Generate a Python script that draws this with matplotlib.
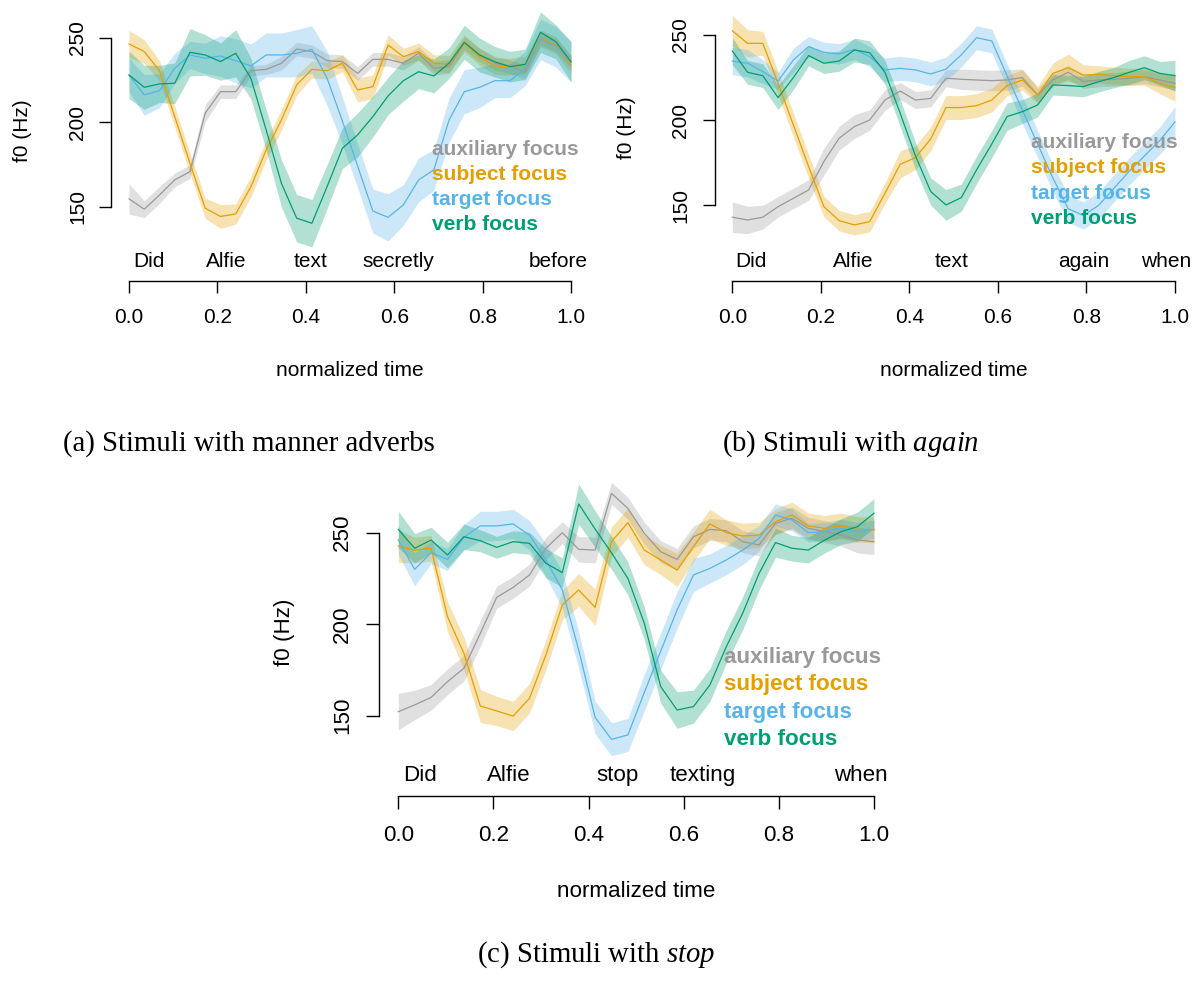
import numpy as np
import matplotlib
matplotlib.use("Agg")
import matplotlib.pyplot as plt

plt.rcParams["font.family"] = ["Liberation Sans", "DejaVu Sans"]
plt.rcParams["mathtext.fontset"] = "custom"
plt.rcParams["mathtext.rm"] = "Liberation Serif"
plt.rcParams["mathtext.it"] = "Liberation Serif:italic"

# normalized time: 30 equally spaced samples per utterance
t = np.linspace(0, 1, 30)

focus_labels = ["auxiliary focus", "subject focus", "target focus", "verb focus"]
colors = ["#999999", "#E69F00", "#56B4E9", "#009E73"]

# (a) stimuli with manner adverbs -- mean f0 (Hz) and CI half-width
aux_a = [154.8, 148.7, 157.1, 166.0, 170.9, 205.4, 218.1, 218.1, 230.5, 231.3, 234.9, 243.3, 241.8, 236.4, 235.9,
         228.9, 237.2, 237.2, 234.9, 240.8, 231.9, 232.9, 246.7, 239.8, 234.9, 232.9, 229.9, 249.6, 245.7, 235.9]
subj_a = [246.3, 241.8, 230.5, 203.4, 175.8, 149.3, 144.4, 145.9, 162.0, 183.7, 201.4, 222.1, 231.3, 230.5, 234.9,
          219.1, 221.1, 245.7, 238.8, 241.8, 234.9, 234.5, 246.7, 238.8, 233.3, 232.9, 233.9, 249.6, 245.7, 233.9]
targ_a = [228.0, 216.2, 218.7, 231.9, 239.8, 237.8, 239.2, 236.4, 233.3, 239.8, 239.8, 240.8, 243.1, 226.0, 200.8,
          174.2, 147.6, 143.9, 151.2, 166.0, 171.9, 201.4, 218.1, 220.7, 224.6, 224.6, 231.9, 249.0, 244.7, 235.8]
verb_a = [228.0, 220.7, 222.7, 223.1, 241.4, 239.8, 235.9, 240.8, 226.0, 195.5, 164.0, 143.4, 140.4, 162.1, 184.7,
          192.6, 203.4, 215.6, 224.6, 229.9, 227.4, 235.0, 247.3, 239.8, 235.8, 232.9, 234.3, 253.2, 247.6, 235.8]
aux_a_ci = [9, 5, 5, 4, 4, 5, 4, 4, 3, 3, 4, 4, 4, 4, 4, 4, 4, 4, 4, 4, 4, 4, 4, 4, 4, 4, 4, 4, 4, 4]
subj_a_ci = [8, 7, 6, 6, 6, 6, 7, 6, 6, 6, 6, 6, 5, 5, 5, 7, 7, 6, 5, 5, 5, 5, 5, 5, 5, 5, 5, 5, 5, 5]
targ_a_ci = [10, 12, 10, 9, 8, 9, 12, 13, 13, 13, 13, 14, 14, 16, 14, 13, 13, 14, 12, 13, 12, 13, 13, 12, 10, 10, 10, 12, 12, 12]
verb_a_ci = [14, 13, 11, 12, 14, 12, 11, 14, 12, 12, 14, 14, 14, 13, 12, 13, 12, 11, 12, 10, 10, 9, 10, 10, 9, 9, 9, 12, 10, 12]
words_a = ["Did", "Alfie", "text", "secretly", "before"]
word_pos_a = [0.045, 0.221, 0.411, 0.610, 0.970]

# (b) stimuli with "again"
aux_b = [143.0, 141.4, 143.0, 149.2, 154.1, 159.0, 175.7, 189.4, 196.2, 200.1, 211.8, 217.1, 211.8, 212.8, 224.6,
         224.0, 223.6, 223.2, 223.6, 225.0, 214.8, 223.6, 228.1, 222.6, 223.6, 224.0, 224.6, 225.5, 223.6, 221.6]
subj_b = [252.5, 245.1, 245.1, 221.6, 197.2, 172.7, 149.2, 141.0, 138.5, 140.4, 157.1, 174.1, 178.0, 189.0, 207.4,
          207.4, 208.5, 211.8, 220.3, 223.6, 214.8, 227.5, 230.8, 226.5, 226.9, 226.1, 225.5, 225.5, 221.6, 219.1]
targ_b = [234.7, 233.4, 228.5, 223.0, 235.3, 243.2, 239.8, 238.9, 241.6, 237.3, 229.5, 230.4, 229.5, 227.1, 230.0,
          238.3, 248.4, 246.5, 226.0, 206.0, 186.0, 166.0, 148.0, 144.0, 150.0, 160.0, 170.0, 179.0, 188.0, 199.0]
verb_b = [240.6, 228.1, 226.1, 213.2, 225.0, 237.9, 233.4, 234.7, 241.2, 239.6, 228.1, 204.0, 179.0, 158.1, 150.2,
          154.5, 170.8, 186.0, 202.1, 205.0, 208.9, 220.7, 220.3, 219.7, 222.6, 225.0, 228.1, 230.8, 227.5, 226.1]
aux_b_ci = [9, 8, 7, 6, 6, 6, 8, 7, 7, 6, 6, 5, 5, 5, 5, 6, 6, 6, 6, 5, 4, 4, 4, 4, 4, 4, 4, 4, 4, 4]
subj_b_ci = [9, 8, 7, 7, 7, 7, 6, 6, 6, 6, 6, 8, 7, 7, 7, 7, 7, 7, 6, 6, 5, 6, 8, 6, 5, 5, 5, 5, 6, 8]
targ_b_ci = [8, 8, 7, 5, 7, 6, 6, 6, 6, 6, 7, 7, 7, 7, 7, 7, 7, 7, 7, 8, 8, 8, 8, 8, 8, 8, 8, 8, 8, 9]
verb_b_ci = [8, 7, 7, 7, 7, 6, 6, 6, 7, 7, 7, 8, 8, 8, 9, 8, 8, 8, 8, 7, 7, 6, 6, 6, 6, 6, 7, 7, 7, 9]
words_b = ["Did", "Alfie", "text", "again", "when"]
word_pos_b = [0.043, 0.274, 0.495, 0.794, 0.980]

# (c) stimuli with "stop"
aux_c = [152.2, 155.9, 160.0, 168.6, 175.9, 195.0, 214.7, 220.1, 226.9, 241.5, 250.0, 240.9, 240.5, 271.5, 263.3,
         249.7, 239.6, 235.4, 247.8, 251.8, 251.1, 245.1, 243.3, 255.1, 257.9, 252.4, 250.6, 248.7, 246.0, 245.1]
subj_c = [242.7, 240.5, 241.5, 204.1, 184.1, 155.3, 152.6, 149.8, 159.5, 183.2, 210.5, 218.7, 209.2, 245.1, 255.5,
          240.5, 235.1, 229.6, 242.4, 254.8, 250.0, 248.2, 248.7, 256.0, 259.7, 253.7, 252.4, 253.7, 251.8, 251.5]
targ_c = [246.0, 230.0, 239.1, 235.4, 247.5, 253.7, 253.7, 254.8, 248.7, 235.1, 218.7, 185.9, 149.1, 137.1, 139.5,
          162.7, 185.3, 207.8, 226.9, 230.5, 235.1, 240.5, 246.9, 259.7, 257.0, 250.0, 250.6, 252.4, 250.6, 251.8]
verb_c = [251.8, 241.5, 246.0, 237.8, 247.8, 245.6, 242.0, 245.1, 244.2, 233.3, 228.2, 265.7, 252.0, 239.0, 225.0,
          200.5, 165.9, 153.1, 155.0, 166.8, 187.7, 206.0, 227.8, 244.6, 241.5, 240.5, 246.0, 250.6, 253.3, 260.6]
aux_c_ci = [10, 8, 7, 7, 7, 7, 6, 6, 6, 6, 6, 7, 7, 6, 6, 6, 6, 6, 6, 6, 6, 6, 6, 6, 6, 6, 6, 6, 7, 7]
subj_c_ci = [9, 7, 7, 8, 9, 9, 8, 8, 8, 8, 8, 9, 10, 8, 8, 8, 8, 9, 8, 8, 7, 7, 7, 7, 7, 7, 7, 7, 7, 7]
targ_c_ci = [8, 9, 6, 6, 7, 8, 8, 8, 8, 9, 10, 10, 9, 9, 9, 10, 10, 10, 9, 8, 8, 8, 7, 6, 6, 5, 5, 5, 5, 5]
verb_c_ci = [10, 8, 7, 7, 7, 6, 6, 6, 6, 8, 8, 11, 10, 9, 9, 9, 9, 10, 9, 9, 9, 9, 9, 8, 7, 7, 7, 7, 8, 8]
words_c = ["Did", "Alfie", "stop", "texting", "when"]
word_pos_c = [0.046, 0.233, 0.461, 0.641, 0.973]

W, H = 1192, 982
fig = plt.figure(figsize=(W / 100, H / 100), dpi=100)


def fy(py):
    return 1 - py / H


def panel(x0, x1, y250, y150, top, axline, s, series, cis, words, wpos, legx, legy):
    span = x1 - x0
    left, right = x0 - 0.04 * span, x1 + 0.04 * span
    pph = (y150 - y250) / 100.0
    ymax = 250 + (y250 - top) / pph
    ymin = 250 - (axline - y250) / pph
    ax = fig.add_axes([left / W, fy(axline), (right - left) / W, (axline - top) / H])
    ax.set_xlim(-0.04, 1.04)
    ax.set_ylim(ymin, ymax)
    ax.patch.set_alpha(0)
    fs = 15 * s

    for vals, ci, col in zip(series, cis, colors):
        vals, ci = np.array(vals), np.array(ci)
        ax.fill_between(t, vals - ci, vals + ci, color=col, alpha=0.3, lw=0)
        ax.plot(t, vals, color=col, lw=0.9)

    for sp in ["top", "right"]:
        ax.spines[sp].set_visible(False)
    ax.spines["left"].set_bounds(150, 250)
    ax.spines["bottom"].set_bounds(0, 1)
    for sp in ["left", "bottom"]:
        ax.spines[sp].set_linewidth(1.0)
    ax.set_xticks([0, 0.2, 0.4, 0.6, 0.8, 1.0])
    ax.set_xticklabels(["0.0", "0.2", "0.4", "0.6", "0.8", "1.0"])
    ax.set_yticks([150, 200, 250])
    ax.set_yticklabels(["150", "200", "250"], rotation=90, va="center")
    ax.tick_params(axis="both", direction="out", length=8.6 * s, width=1.0, labelsize=fs)
    ax.tick_params(axis="x", pad=10.5 * s)
    ax.tick_params(axis="y", pad=9 * s)

    def yd(py):
        return 250 - (py - y250) / pph

    for w, p in zip(words, wpos):
        ax.text(p, yd(axline - 14 * s), w, ha="center", va="baseline", fontsize=fs, clip_on=False)

    for k, (lab, col) in enumerate(zip(focus_labels, colors)):
        ax.text(legx, legy - 14.8 * k, lab, color=col, fontweight="bold", fontsize=fs,
                ha="left", va="baseline")

    fig.text((x0 + x1) / 2 / W, fy(axline + 89 * s), "normalized time", ha="center", va="center", fontsize=fs)
    fig.text((left - 88.5 * s) / W, fy(y250 + 93 * s), "f0 (Hz)", ha="center", va="center",
             rotation=90, fontsize=fs)
    return ax


panel(129, 571, 37.7, 207, 5, 281, 1.0,
      [aux_a, subj_a, targ_a, verb_a], [aux_a_ci, subj_a_ci, targ_a_ci, verb_a_ci],
      words_a, word_pos_a, 0.6855, 180.7)
panel(732.3, 1175, 35, 205.3, 5, 281, 1.0,
      [aux_b, subj_b, targ_b, verb_b], [aux_b_ci, subj_b_ci, targ_b_ci, verb_b_ci],
      words_b, word_pos_b, 0.675, 183.5)
panel(398.3, 873.9, 532.7, 715.7, 470, 796, 1.076,
      [aux_c, subj_c, targ_c, verb_c], [aux_c_ci, subj_c_ci, targ_c_ci, verb_c_ci],
      words_c, word_pos_c, 0.685, 178.6)

cap = dict(ha="center", va="center", fontsize=20.7, family="Liberation Serif")
fig.text(248.5 / W, fy(444), "(a) Stimuli with manner adverbs", **cap)
fig.text(851 / W, fy(444), r"(b) Stimuli with $\mathit{again}$", **cap)
fig.text(596 / W, fy(955), r"(c) Stimuli with $\mathit{stop}$", **cap)

fig.savefig("out.png", dpi=100)
